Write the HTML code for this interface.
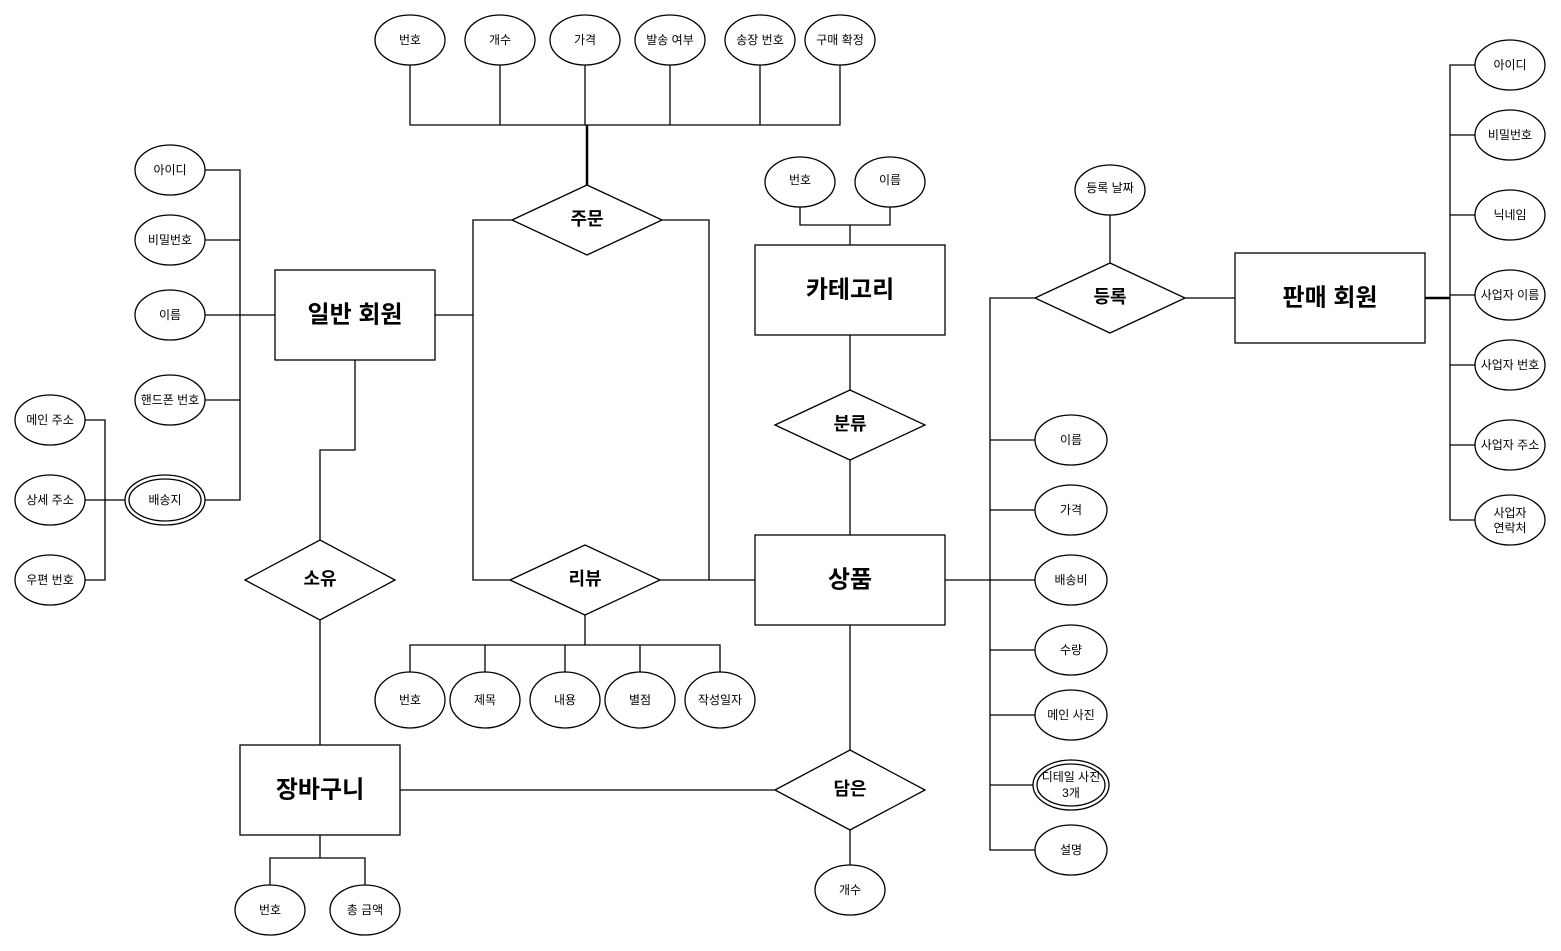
<!DOCTYPE html>
<html><head><meta charset="utf-8"><style>
html,body{margin:0;padding:0;background:#fff;}
svg{display:block;}
text{font-family:"Liberation Sans","Noto Sans CJK KR","NanumGothic",sans-serif;text-anchor:middle;dominant-baseline:central;fill:#000;}
.a{font-size:12px;}
.e{font-size:24px;font-weight:bold;}
.r{font-size:18px;font-weight:bold;}
</style></head><body>
<svg width="1561" height="951" viewBox="0 0 1561 951" xmlns="http://www.w3.org/2000/svg">
<g fill="none" stroke="#000" stroke-width="1.3">
<!-- order attrs -->
<polyline points="410,65 410,125 840,125 840,65"/>
<line x1="500" y1="65" x2="500" y2="125"/><line x1="585" y1="65" x2="585" y2="125"/>
<line x1="670" y1="65" x2="670" y2="125"/><line x1="760" y1="65" x2="760" y2="125"/>
<line x1="587" y1="125" x2="587" y2="185" stroke-width="2.5"/>
<!-- order / review connections -->
<polyline points="512,220 473,220 473,580 510,580"/>
<line x1="435" y1="315" x2="473" y2="315"/>
<polyline points="662,220 709,220 709,580"/>
<line x1="660" y1="580" x2="755" y2="580"/>
<!-- review attrs -->
<polyline points="585,615 585,645"/>
<polyline points="410,672 410,645 720,645 720,672"/>
<line x1="485" y1="645" x2="485" y2="672"/><line x1="565" y1="645" x2="565" y2="672"/><line x1="640" y1="645" x2="640" y2="672"/>
<!-- member attrs -->
<polyline points="205,170 240,170 240,500 205,500"/>
<line x1="205" y1="240" x2="240" y2="240"/><line x1="205" y1="315" x2="275" y2="315"/><line x1="205" y1="400" x2="240" y2="400"/>
<polyline points="85,420 105,420 105,580 85,580"/>
<line x1="85" y1="500" x2="125" y2="500"/>
<!-- own -->
<polyline points="355,360 355,450 320,450 320,540"/>
<line x1="320" y1="620" x2="320" y2="745"/>
<polyline points="320,835 320,858"/>
<polyline points="270,885 270,858 365,858 365,885"/>
<line x1="400" y1="790" x2="775" y2="790"/>
<line x1="850" y1="750" x2="850" y2="625"/>
<line x1="850" y1="830" x2="850" y2="865"/>
<!-- category -->
<line x1="850" y1="460" x2="850" y2="535"/><line x1="850" y1="390" x2="850" y2="335"/>
<polyline points="800,207 800,225 890,225 890,207"/><line x1="850" y1="225" x2="850" y2="245"/>
<!-- product attrs -->
<polyline points="945,580 990,580"/>
<polyline points="1035,298 990,298 990,850 1035,850"/>
<line x1="990" y1="440" x2="1035" y2="440"/><line x1="990" y1="510" x2="1035" y2="510"/>
<line x1="990" y1="580" x2="1035" y2="580"/><line x1="990" y1="650" x2="1035" y2="650"/>
<line x1="990" y1="715" x2="1035" y2="715"/><line x1="990" y1="785" x2="1035" y2="785"/>
<!-- register -->
<line x1="1110" y1="263" x2="1110" y2="215"/>
<line x1="1185" y1="298" x2="1235" y2="298"/>
<line x1="1425" y1="298" x2="1450" y2="298" stroke-width="2.5"/>
<polyline points="1475,65 1450,65 1450,520 1475,520"/>
<line x1="1450" y1="135" x2="1475" y2="135"/><line x1="1450" y1="215" x2="1475" y2="215"/>
<line x1="1450" y1="295" x2="1475" y2="295"/><line x1="1450" y1="365" x2="1475" y2="365"/>
<line x1="1450" y1="445" x2="1475" y2="445"/>
</g>
<g fill="#fff" stroke="#000" stroke-width="1.3">
<!-- entities -->
<rect x="275" y="270" width="160" height="90"/>
<rect x="755" y="245" width="190" height="90"/>
<rect x="755" y="535" width="190" height="90"/>
<rect x="240" y="745" width="160" height="90"/>
<rect x="1235" y="253" width="190" height="90"/>
<!-- relationships -->
<polygon points="512,220 587,185 662,220 587,255"/>
<polygon points="510,580 585,545 660,580 585,615"/>
<polygon points="245,580 320,540 395,580 320,620"/>
<polygon points="775,425 850,390 925,425 850,460"/>
<polygon points="775,790 850,750 925,790 850,830"/>
<polygon points="1035,298 1110,263 1185,298 1110,333"/>
<!-- ellipses top -->
<ellipse cx="410" cy="40" rx="35" ry="25"/><ellipse cx="500" cy="40" rx="35" ry="25"/>
<ellipse cx="585" cy="40" rx="35" ry="25"/><ellipse cx="670" cy="40" rx="35" ry="25"/>
<ellipse cx="760" cy="40" rx="35" ry="25"/><ellipse cx="840" cy="40" rx="35" ry="25"/>
<!-- member -->
<ellipse cx="170" cy="170" rx="35" ry="25"/><ellipse cx="170" cy="240" rx="35" ry="25"/>
<ellipse cx="170" cy="315" rx="35" ry="25"/><ellipse cx="170" cy="400" rx="35" ry="25"/>
<ellipse cx="165" cy="500" rx="40" ry="25"/><ellipse cx="165" cy="500" rx="36" ry="21"/>
<ellipse cx="50" cy="420" rx="35" ry="25"/><ellipse cx="50" cy="500" rx="35" ry="25"/><ellipse cx="50" cy="580" rx="35" ry="25"/>
<!-- review -->
<ellipse cx="410" cy="700" rx="35" ry="28"/><ellipse cx="485" cy="700" rx="35" ry="28"/>
<ellipse cx="565" cy="700" rx="35" ry="28"/><ellipse cx="640" cy="700" rx="35" ry="28"/><ellipse cx="720" cy="700" rx="35" ry="28"/>
<!-- cart -->
<ellipse cx="270" cy="910" rx="35" ry="25"/><ellipse cx="365" cy="910" rx="35" ry="25"/>
<ellipse cx="850" cy="890" rx="35" ry="25"/>
<!-- category -->
<ellipse cx="800" cy="182" rx="35" ry="25"/><ellipse cx="890" cy="182" rx="35" ry="25"/>
<!-- product -->
<ellipse cx="1071" cy="440" rx="36" ry="25"/><ellipse cx="1071" cy="510" rx="36" ry="25"/>
<ellipse cx="1071" cy="580" rx="36" ry="25"/><ellipse cx="1071" cy="650" rx="36" ry="25"/>
<ellipse cx="1071" cy="715" rx="36" ry="25"/>
<ellipse cx="1071" cy="785" rx="38" ry="25"/><ellipse cx="1071" cy="785" rx="34" ry="21"/>
<ellipse cx="1071" cy="850" rx="36" ry="25"/>
<ellipse cx="1110" cy="190" rx="35" ry="25"/>
<!-- seller -->
<ellipse cx="1510" cy="65" rx="35" ry="25"/><ellipse cx="1510" cy="135" rx="35" ry="25"/>
<ellipse cx="1510" cy="215" rx="35" ry="25"/><ellipse cx="1510" cy="295" rx="35" ry="25"/>
<ellipse cx="1510" cy="365" rx="35" ry="25"/><ellipse cx="1510" cy="445" rx="35" ry="25"/>
<ellipse cx="1510" cy="520" rx="35" ry="25"/>
</g>
<g>
<text class="e" x="355" y="315">일반 회원</text>
<text class="e" x="850" y="290">카테고리</text>
<text class="e" x="850" y="580">상품</text>
<text class="e" x="320" y="790">장바구니</text>
<text class="e" x="1330" y="298">판매 회원</text>
<text class="r" x="587" y="219">주문</text>
<text class="r" x="585" y="579">리뷰</text>
<text class="r" x="320" y="579">소유</text>
<text class="r" x="850" y="424">분류</text>
<text class="r" x="850" y="789">담은</text>
<text class="r" x="1110" y="297">등록</text>
<text class="a" x="410" y="40">번호</text><text class="a" x="500" y="40">개수</text><text class="a" x="585" y="40">가격</text>
<text class="a" x="670" y="40">발송 여부</text><text class="a" x="760" y="40">송장 번호</text><text class="a" x="840" y="40">구매 확정</text>
<text class="a" x="170" y="170">아이디</text><text class="a" x="170" y="240">비밀번호</text><text class="a" x="170" y="315">이름</text>
<text class="a" x="170" y="400">핸드폰 번호</text><text class="a" x="165" y="500">배송지</text>
<text class="a" x="50" y="420">메인 주소</text><text class="a" x="50" y="500">상세 주소</text><text class="a" x="50" y="580">우편 번호</text>
<text class="a" x="410" y="700">번호</text><text class="a" x="485" y="700">제목</text><text class="a" x="565" y="700">내용</text>
<text class="a" x="640" y="700">별점</text><text class="a" x="720" y="700">작성일자</text>
<text class="a" x="270" y="910">번호</text><text class="a" x="365" y="910">총 금액</text>
<text class="a" x="850" y="890">개수</text>
<text class="a" x="800" y="180">번호</text><text class="a" x="890" y="180">이름</text>
<text class="a" x="1071" y="440">이름</text><text class="a" x="1071" y="510">가격</text><text class="a" x="1071" y="580">배송비</text>
<text class="a" x="1071" y="650">수량</text><text class="a" x="1071" y="715">메인 사진</text>
<text class="a" x="1071" y="777">디테일 사진</text><text class="a" x="1071" y="793">3개</text>
<text class="a" x="1071" y="850">설명</text>
<text class="a" x="1110" y="188">등록 날짜</text>
<text class="a" x="1510" y="65">아이디</text><text class="a" x="1510" y="135">비밀번호</text><text class="a" x="1510" y="215">닉네임</text>
<text class="a" x="1510" y="295">사업자 이름</text><text class="a" x="1510" y="365">사업자 번호</text><text class="a" x="1510" y="445">사업자 주소</text>
<text class="a" x="1510" y="513">사업자</text><text class="a" x="1510" y="528">연락처</text>
</g>
</svg>
</body></html>
